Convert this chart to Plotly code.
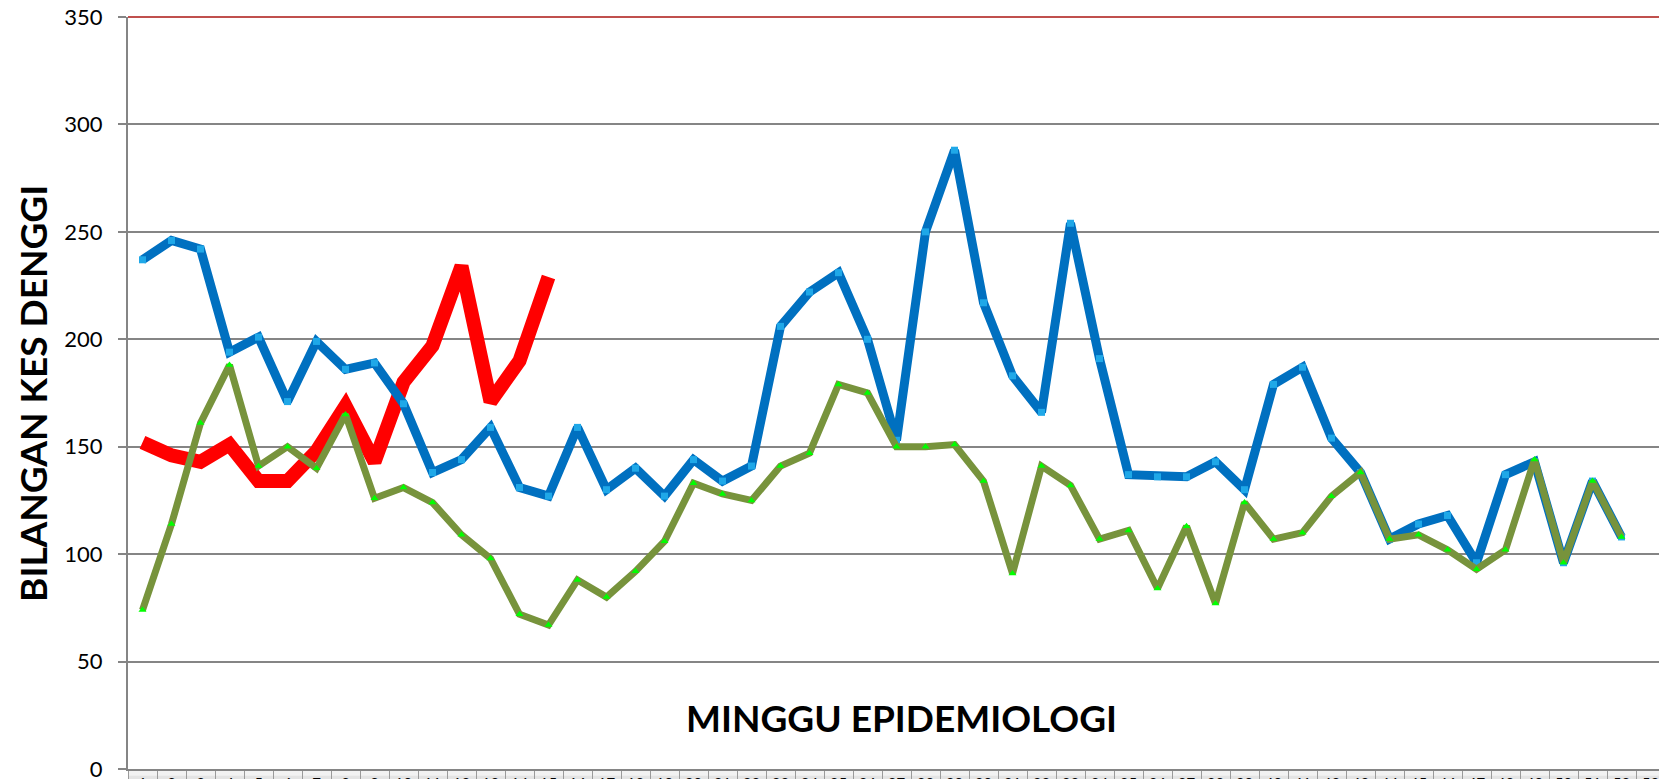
import plotly.graph_objects as go

weeks = [str(i) for i in range(1, 54)]

series_blue = [237, 246, 242, 194, 201, 171, 199, 186, 189, 170,
               138, 144, 159, 131, 127, 159, 130, 140, 127, 144,
               134, 141, 206, 222, 231, 200, 153, 250, 288, 217,
               183, 166, 254, 191, 137, 136, 136, 143, 130, 179,
               187, 154, 138, 107, 114, 118, 96, 137, 143, 96,
               134, 108]

series_green = [74, 114, 161, 188, 141, 150, 140, 165, 126, 131,
                124, 109, 98, 72, 67, 88, 80, 92, 106, 133,
                128, 125, 141, 147, 179, 175, 150, 150, 151, 134,
                91, 141, 132, 107, 111, 84, 113, 77, 124, 107,
                110, 127, 138, 107, 109, 102, 93, 102, 144, 96,
                134, 108]

series_red = [152, 146, 143, 151, 134, 134, 148, 169, 143, 180,
              197, 234, 171, 190, 229]

y_ticks = [0, 50, 100, 150, 200, 250, 300, 350]

fig = go.Figure()

fig.add_trace(go.Scatter(
    x=weeks[:len(series_red)], y=series_red, mode="lines",
    line=dict(color="#FF0000", width=14), name="red", showlegend=False,
))
fig.add_trace(go.Scatter(
    x=weeks[:len(series_blue)], y=series_blue, mode="lines+markers",
    line=dict(color="#0070C0", width=9),
    marker=dict(symbol="square", size=7, color="#1FA8E8", line=dict(width=0)),
    name="blue", showlegend=False,
))
fig.add_trace(go.Scatter(
    x=weeks[:len(series_green)], y=series_green, mode="lines+markers",
    line=dict(color="#77933C", width=7),
    marker=dict(symbol="triangle-up", size=7, color="#00FF00", line=dict(width=0)),
    name="green", showlegend=False,
))

grid_color = "#858585"

fig.update_xaxes(
    type="category", categoryorder="array", categoryarray=weeks,
    range=[-0.5, len(weeks) - 0.5],
    showgrid=False, zeroline=False,
    showline=True, linecolor=grid_color, linewidth=2,
    ticks="outside", tickson="boundaries", ticklen=14, tickwidth=1, tickcolor="#9a9a9a",
    tickfont=dict(family="Lato", size=15, color="#000000"),
    ticklabelstandoff=0,
    ticklabeloverflow="allow",
    automargin=False,
)
fig.update_yaxes(
    range=[0, 350], tickvals=y_ticks,
    showgrid=True, gridcolor=grid_color, gridwidth=1.5,
    zeroline=False,
    showline=True, linecolor=grid_color, linewidth=2,
    ticks="outside", ticklen=8, tickcolor=grid_color, tickwidth=1.5,
    tickfont=dict(family="Lato", size=22, color="#000000"),
    ticklabelstandoff=11,
    ticklabeloverflow="allow",
    automargin=False,
)

shapes = [
    # bottom table strip background
    dict(type="rect", xref="paper", yref="paper", x0=0, x1=1, y0=-0.03, y1=0,
         fillcolor="#E4E4E4", line=dict(width=0), layer="below"),
    dict(type="rect", xref="paper", yref="paper", x0=0, x1=1, y0=-0.009, y1=0,
         fillcolor="#F2F2F2", line=dict(width=0), layer="below"),
    # red plot border top and right
    dict(type="line", xref="paper", yref="paper", x0=0, x1=1, y0=1, y1=1,
         line=dict(color="#C0504D", width=2)),
    dict(type="line", xref="paper", yref="paper", x0=1, x1=1, y0=0, y1=1,
         line=dict(color="#C0504D", width=2)),
]

annotations = [
    dict(text="MINGGU EPIDEMIOLOGI", xref="paper", yref="paper",
         x=0.503, y=0.068, xanchor="center", yanchor="middle", showarrow=False,
         font=dict(family="Lato", size=37, color="#000000", weight="bold")),
    dict(text="BILANGAN KES DENGGI", xref="paper", yref="paper",
         x=-0.0625, y=0.5, xanchor="center", yanchor="middle", showarrow=False,
         textangle=-90,
         font=dict(family="Lato", size=37, color="#000000", weight="bold")),
]

fig.update_layout(
    width=1667, height=779,
    margin=dict(l=120, r=10, t=9, b=18, pad=0),
    paper_bgcolor="#FFFFFF", plot_bgcolor="#FFFFFF",
    shapes=shapes, annotations=annotations,
    showlegend=False,
)

fig.write_html("out.html")
